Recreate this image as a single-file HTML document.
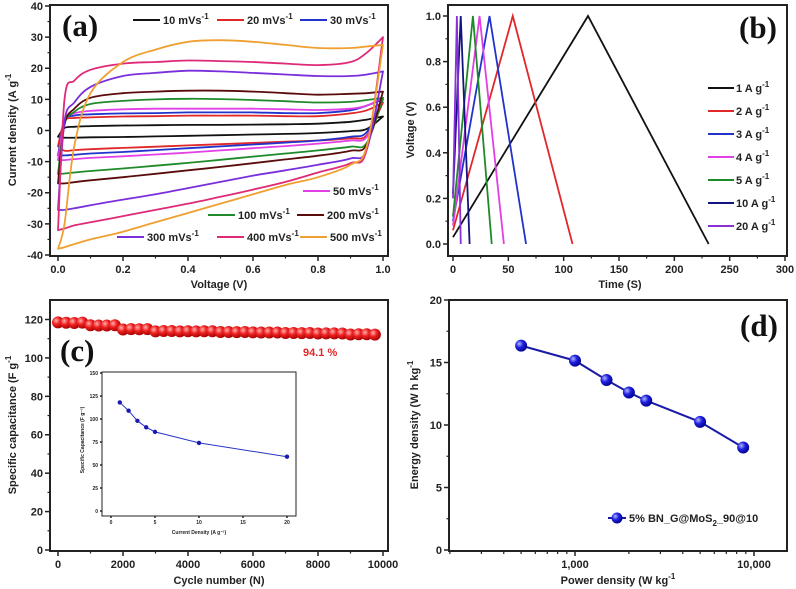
<!DOCTYPE html>
<html><head><meta charset="utf-8"><style>
html,body{margin:0;padding:0;background:#fff}
svg{display:block}
text{font-family:"Liberation Sans",sans-serif;font-weight:bold;fill:#222}
.lbl{font-family:"Liberation Serif",serif;font-size:31px;font-weight:bold;fill:#111}
</style></head><body>
<svg id="fig" width="796" height="589" viewBox="0 0 796 589" xmlns="http://www.w3.org/2000/svg"></svg>
<script>
// ===== Panel (a) CV data =====
const cvVoltage=[0,0.02,0.05,0.1,0.2,0.3,0.4,0.5,0.6,0.7,0.8,0.9,0.95,1.0];
const cvRates=["10","20","30","50","100","200","300","400","500"];
const cvColors=["#111","#e02828","#2233cc","#e23fe6","#1f8a2a","#5a0c0c","#7a2fdc","#df2a78","#f0a030"];
const cvUp10=[-2,0.8,1.2,1.4,1.6,1.7,1.8,1.8,1.9,2,2.2,2.8,3.5,4.5];
const cvDn10=[-2,-2.3,-2.3,-2.2,-2.1,-1.9,-1.7,-1.5,-1.3,-1.1,-0.8,-0.2,0.5,4.5];
const cvUp20=[-5,3,4,4.2,4.5,4.6,4.8,4.8,4.8,4.6,4.6,5.5,6.5,9];
const cvDn20=[-5,-6.5,-6.3,-6,-5.6,-5.2,-4.8,-4.4,-4,-3.6,-3.2,-2.5,-1.5,9];
const cvUp30=[-8,3,4.8,5.2,5.5,5.6,5.8,5.8,5.8,5.6,5.6,6.5,8,10];
const cvDn30=[-8,-8,-7.8,-7.4,-6.9,-6.3,-5.7,-5.1,-4.5,-3.9,-3.2,-2,-0.5,10];
const cvUp50=[-9.5,3,5.5,6.3,6.8,7,7,7,7,6.8,6.6,7,8,10.5];
const cvDn50=[-9.5,-9.5,-9.2,-8.8,-8.3,-7.7,-7.1,-6.4,-5.7,-5,-4.2,-3.2,-2,10.5];
const cvUp100=[-14,2,6,8.5,9.5,10,10.2,10.1,9.8,9.4,9,9.2,9.8,10.5];
const cvDn100=[-14,-13.8,-13.5,-13,-12.2,-11.3,-10.4,-9.4,-8.4,-7.4,-6.4,-5.2,-4,10.5];
const cvUp200=[-17,2,7,10.5,12,12.5,12.8,12.8,12.5,12,11.5,11.8,12,12.5];
const cvDn200=[-17,-17,-16.6,-16,-15,-13.9,-12.8,-11.7,-10.5,-9.3,-8.1,-6.5,-4.5,12.5];
const cvUp300=[-25.5,3,9,14,17.5,18.5,19.2,19,18.5,18,17.5,17.5,18,19];
const cvDn300=[-25.5,-25.5,-25,-24,-22.2,-20.5,-18.5,-16.5,-14.5,-12.8,-11,-9,-6,19];
const cvUp400=[-32,10,16,19.5,21.5,22,22.5,22.3,22,21.5,21,22,25,30];
const cvDn400=[-32,-31.5,-30.5,-29.5,-27.5,-25.5,-23.5,-21.3,-19,-16.5,-13.5,-10.5,-6,30];
const cvUp500=[-38,-30,-5,12,22,26,28.5,29,28.5,27.5,26.5,26.5,27,27.5];
const cvDn500=[-38,-37.5,-36.5,-35,-32.5,-29.5,-26.5,-23.5,-20.5,-17.5,-15,-11,-5,27.5];
const cvUps=[cvUp10,cvUp20,cvUp30,cvUp50,cvUp100,cvUp200,cvUp300,cvUp400,cvUp500];
const cvDns=[cvDn10,cvDn20,cvDn30,cvDn50,cvDn100,cvDn200,cvDn300,cvDn400,cvDn500];
const aXTicks=[0,0.2,0.4,0.6,0.8,1.0];
const aYTicks=[-40,-30,-20,-10,0,10,20,30,40];
// ===== Panel (b) GCD data =====
const gcdLabels=["1","2","3","4","5","10","20"];
const gcdColors=["#111","#e02828","#2233cc","#e23fe6","#1f8a2a","#141480","#8a30d8"];
const gcdStartT=[0,0,0,0,0,0,0];
const gcdStartV=[0.03,0.06,0.1,0.08,0.12,0.22,0.2];
const gcdPeakT=[122,54,33,24,18,7,3.5];
const gcdEndT=[231,108,66,46,35,15,7];
const bXTicks=[0,50,100,150,200,250,300];
const bYTicks=[0,0.2,0.4,0.6,0.8,1.0];
// ===== Panel (c) cycling =====
const cycN=[0,250,500,750,1000,1250,1500,1750,2000,2250,2500,2750,3000,3250,3500,3750,4000,4250,4500,4750,5000,5250,5500,5750,6000,6250,6500,6750,7000,7250,7500,7750,8000,8250,8500,8750,9000,9250,9500,9750];
const cycCap=[118.5,118.3,118.2,118.4,117,116.9,116.9,117,114.8,115,114.9,115,113.8,114,114,113.8,113.9,113.8,113.9,113.9,113.5,113.5,113.4,113.5,113.3,113.2,113.2,113.2,113,113,112.9,113,112.7,112.8,112.8,112.7,112.2,112.3,112.3,112.1];
const cXTicks=[0,2000,4000,6000,8000,10000];
const cYTicks=[0,20,40,60,80,100,120];
const insJ=[1,2,3,4,5,10,20];
const insCap=[118,109,98,91,86,74,59];
const insXTicks=[0,5,10,15,20];
const insYTicks=[0,25,50,75,100,125,150];
// ===== Panel (d) Ragone =====
const ragP=[500,1000,1500,2000,2500,5000,8700];
const ragE=[16.35,15.15,13.6,12.6,11.95,10.25,8.2];
const dYTicks=[0,5,10,15,20];
const dXTicks=[1000,10000];
const dXTickLabels=["1,000","10,000"];

const svg=document.getElementById('fig');
const NS='http://www.w3.org/2000/svg';
function mk(tag,attrs,parent){const e=document.createElementNS(NS,tag);for(const k in attrs)e.setAttribute(k,attrs[k]);(parent||svg).appendChild(e);return e;}
function txt(s,attrs,parent){const e=mk('text',attrs,parent);e.textContent=s;return e;}
function lin(d0,d1,r0,r1){return v=>r0+(v-d0)/(d1-d0)*(r1-r0);}
function smooth(pts,start){
  let d=start?'M'+pts[0][0].toFixed(1)+','+pts[0][1].toFixed(1):'L'+pts[0][0].toFixed(1)+','+pts[0][1].toFixed(1);
  for(let i=0;i<pts.length-1;i++){
    const p0=pts[i-1]||pts[i],p1=pts[i],p2=pts[i+1],p3=pts[i+2]||p2;
    const c1=[p1[0]+(p2[0]-p0[0])/6,p1[1]+(p2[1]-p0[1])/6];
    const c2=[p2[0]-(p3[0]-p1[0])/6,p2[1]-(p3[1]-p1[1])/6];
    d+='C'+c1[0].toFixed(1)+','+c1[1].toFixed(1)+' '+c2[0].toFixed(1)+','+c2[1].toFixed(1)+' '+p2[0].toFixed(1)+','+p2[1].toFixed(1);
  }
  return d;
}

const defs=mk('defs',{});
defs.innerHTML='<radialGradient id="gRed" cx="0.35" cy="0.35" r="0.7"><stop offset="0" stop-color="#ffb0b0"/><stop offset="0.45" stop-color="#ee2020"/><stop offset="1" stop-color="#a00000"/></radialGradient><radialGradient id="gBlue" cx="0.35" cy="0.35" r="0.7"><stop offset="0" stop-color="#b0b8ff"/><stop offset="0.45" stop-color="#2020e0"/><stop offset="1" stop-color="#00008a"/></radialGradient>';

function frame(g,x0,y0,x1,y1,name){
  const r=mk('rect',{x:x0,y:y0,width:x1-x0,height:y1-y0,fill:'none',stroke:'#222','stroke-width':2},g);
  
  
  return r;
}
function yAxis(g,ticks,fy,x0,labels,fs,minor,len,name){
  const ax=mk('g',{},g);
  
  
  ticks.forEach((t,i)=>{const y=fy(t);
    mk('line',{x1:x0-len,y1:y,x2:x0,y2:y,stroke:'#222','stroke-width':1.5},ax);
    const tl=txt(labels?labels[i]:String(t),{x:x0-len-2,y:y+fs*0.36,'font-size':fs,'text-anchor':'end'},ax);
    
    
    if(minor&&i<ticks.length-1){const ym=fy((t+ticks[i+1])/2);mk('line',{x1:x0-len/2,y1:ym,x2:x0,y2:ym,stroke:'#222','stroke-width':1.2},ax);}
  });
}
function xAxis(g,ticks,fx,y0,labels,fs,minor,len,name){
  const ax=mk('g',{},g);
  
  
  ticks.forEach((t,i)=>{const x=fx(t);
    mk('line',{x1:x,y1:y0,x2:x,y2:y0+len,stroke:'#222','stroke-width':1.5},ax);
    const tl=txt(labels?labels[i]:String(t),{x:x,y:y0+len+fs+1,'font-size':fs,'text-anchor':'middle'},ax);
    
    
    if(minor&&i<ticks.length-1){const xm=fx((t+ticks[i+1])/2);mk('line',{x1:xm,y1:y0,x2:xm,y2:y0+len/2,stroke:'#222','stroke-width':1.2},ax);}
  });
}
function sup(base,s,attrs,parent){const e=txt(base,attrs,parent);const t=document.createElementNS(NS,'tspan');t.setAttribute('dy','-5');t.setAttribute('font-size','8');t.textContent=s;e.appendChild(t);return e;}

// ===== Panel A =====
const gA=mk('g',{});


const ax=lin(0,1,58,383), ay=lin(-40,40,255,6);
cvRates.forEach((r,i)=>{
  const up=cvVoltage.map((v,j)=>[ax(v),ay(cvUps[i][j])]);
  const dn=cvVoltage.map((v,j)=>[ax(v),ay(cvDns[i][j])]).reverse();
  const d=smooth(up,true)+smooth(dn,false)+'Z';
  const p=mk('path',{d:d,fill:'none',stroke:cvColors[i],'stroke-width':1.8,'stroke-linejoin':'round'},gA);
  
  
});
frame(gA,50,5,388,256,'panel-a-frame');
yAxis(gA,aYTicks,ay,50,null,11,true,5,'panel-a-y-axis');
xAxis(gA,aXTicks,ax,256,["0.0","0.2","0.4","0.6","0.8","1.0"],11,true,5,'panel-a-x-axis');
let t=txt('Voltage (V)',{x:219,y:288,'font-size':11,'text-anchor':'middle'},gA);

t=sup('Current density (A g','-1',{x:0,y:0,'font-size':11,'text-anchor':'middle',transform:'translate(16,130) rotate(-90)'},gA);

t=txt('(a)',{x:62,y:36,class:'lbl'},gA);

const legA=[[0,133,24],[1,217,24],[2,300,24],[3,303,195],[4,208,219],[5,297,219],[6,117,241],[7,217,241],[8,300,241]];
legA.forEach(([i,x,y])=>{
  const g=mk('g',{},gA);
  
  
  mk('line',{x1:x,y1:y-4,x2:x+27,y2:y-4,stroke:cvColors[i],'stroke-width':2},g);
  sup(cvRates[i]+' mVs','-1',{x:x+30,y:y,'font-size':11},g);
});

// ===== Panel B =====
const gB=mk('g',{});


const bx=lin(0,300,453,785), by=lin(0,1,244,16);
gcdLabels.forEach((l,i)=>{
  const d='M'+bx(gcdStartT[i])+','+by(gcdStartV[i])+'L'+bx(gcdPeakT[i])+','+by(1)+'L'+bx(gcdEndT[i])+','+by(0);
  const p=mk('path',{d:d,fill:'none',stroke:gcdColors[i],'stroke-width':1.8},gB);
  
  
  const g=mk('g',{},gB);
  
  
  const y=92+i*23;
  mk('line',{x1:708,y1:y-4,x2:734,y2:y-4,stroke:gcdColors[i],'stroke-width':2},g);
  sup(l+' A g','-1',{x:736,y:y,'font-size':11},g);
});
frame(gB,448,5,787,256,'panel-b-frame');
yAxis(gB,bYTicks,by,448,["0.0","0.2","0.4","0.6","0.8","1.0"],11,true,5,'panel-b-y-axis');
xAxis(gB,bXTicks,bx,256,null,11,true,5,'panel-b-x-axis');
t=txt('Time (S)',{x:620,y:288,'font-size':11,'text-anchor':'middle'},gB);

t=txt('Voltage (V)',{x:0,y:0,'font-size':11,'text-anchor':'middle',transform:'translate(414,130) rotate(-90)'},gB);

t=txt('(b)',{x:739,y:38,class:'lbl'},gB);


// ===== Panel C =====
const gC=mk('g',{});


const cx=lin(0,10000,58,383), cy=lin(0,120,550,319.5);
cycN.forEach((n,i)=>{
  const c=mk('circle',{cx:cx(n),cy:cy(cycCap[i]),r:6,fill:'url(#gRed)'},gC);
  
  
});
frame(gC,50,300,388,551,'panel-c-frame');
yAxis(gC,cYTicks,cy,50,null,11,true,5,'panel-c-y-axis');
xAxis(gC,cXTicks,cx,551,null,11,true,5,'panel-c-x-axis');
t=txt('Cycle number (N)',{x:219,y:584,'font-size':11,'text-anchor':'middle'},gC);

t=sup('Specific capacitance (F g','-1',{x:0,y:0,'font-size':11,'text-anchor':'middle',transform:'translate(16,425) rotate(-90)'},gC);

t=txt('(c)',{x:60,y:361,class:'lbl'},gC);

t=txt('94.1 %',{x:303,y:356,'font-size':11,style:'fill:#e02828'},gC);

const gI=mk('g',{},gC);


mk('rect',{x:102,y:372,width:194,height:144,fill:'#fff'},gI);
const ix=lin(0,20,111,287), iy=lin(0,150,511,373);
let dI='';insJ.forEach((j,i)=>{dI+=(i?'L':'M')+ix(j)+','+iy(insCap[i]);});
t=mk('path',{d:dI,fill:'none',stroke:'#2a35c8','stroke-width':1},gI);

insJ.forEach((j,i)=>{const c=mk('circle',{cx:ix(j),cy:iy(insCap[i]),r:2.2,fill:'#1a1ab0'},gI);
  
  });
frame(gI,102,372,296,516,'inset-frame').setAttribute('stroke-width',1);
yAxis(gI,insYTicks,iy,102,null,5,false,2,'inset-y-axis');
xAxis(gI,insXTicks,ix,516,null,5,false,2,'inset-x-axis');
t=txt('Current Density (A g\u207B\u00B9)',{x:199,y:534,'font-size':5,'text-anchor':'middle'},gI);

t=txt('Specific Capacitance (F g\u207B\u00B9)',{x:0,y:0,'font-size':5,'text-anchor':'middle',transform:'translate(84,440) rotate(-90)'},gI);


// ===== Panel D =====
const gD=mk('g',{});


const dx=v=>575+(Math.log10(v)-3)*179, dy=lin(0,20,550,300);
let dD='';ragP.forEach((p,i)=>{dD+=(i?'L':'M')+dx(p).toFixed(1)+','+dy(ragE[i]).toFixed(1);});
t=mk('path',{d:dD,fill:'none',stroke:'#1a1aa8','stroke-width':2},gD);

ragP.forEach((p,i)=>{const c=mk('circle',{cx:dx(p),cy:dy(ragE[i]),r:6,fill:'url(#gBlue)'},gD);
  
  });
frame(gD,449,300,787,551,'panel-d-frame');
yAxis(gD,dYTicks,dy,449,null,11,true,5,'panel-d-y-axis');
xAxis(gD,dXTicks,dx,551,dXTickLabels,11,false,5,'panel-d-x-axis');
[200,300,400,500,600,700,800,900,2000,3000,4000,5000,6000,7000,8000,9000].forEach(v=>{
  mk('line',{x1:dx(v),y1:551,x2:dx(v),y2:554,stroke:'#222','stroke-width':1.2},gD);});
t=sup('Power density (W kg','-1',{x:618,y:584,'font-size':11,'text-anchor':'middle'},gD);

t=sup('Energy density (W h kg','-1',{x:0,y:0,'font-size':11,'text-anchor':'middle',transform:'translate(418,425) rotate(-90)'},gD);

t=txt('(d)',{x:740,y:336,class:'lbl'},gD);

const lgD=mk('g',{},gD);


mk('line',{x1:608,y1:518,x2:626,y2:518,stroke:'#1a1aa8','stroke-width':2},lgD);
mk('circle',{cx:617,cy:518,r:5.5,fill:'url(#gBlue)'},lgD);
const lt=txt('5% BN_G@MoS',{x:629,y:522,'font-size':11},lgD);
const s2=document.createElementNS(NS,'tspan');s2.setAttribute('dy','4');s2.setAttribute('font-size','8');s2.textContent='2';lt.appendChild(s2);
const s3=document.createElementNS(NS,'tspan');s3.setAttribute('dy','-4');s3.textContent='_90@10';lt.appendChild(s3);
</script>
</body></html>
